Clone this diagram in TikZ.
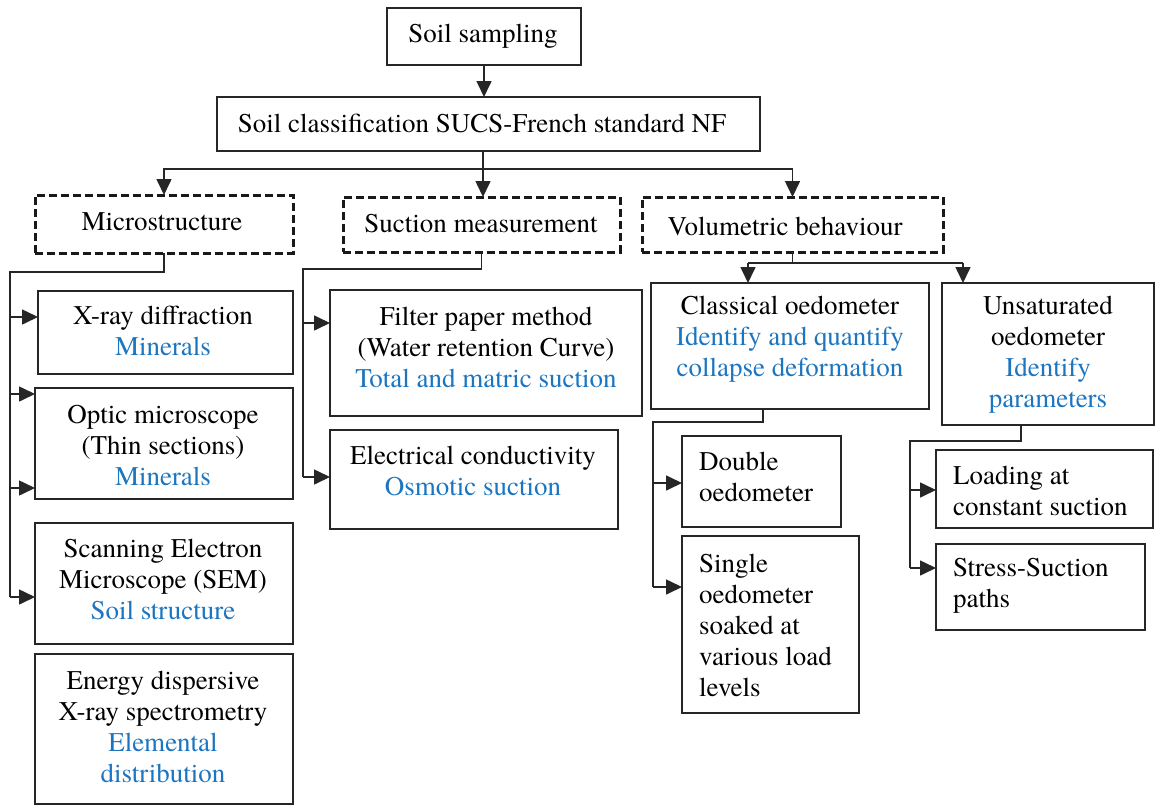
\documentclass[tikz,border=0pt]{standalone}
\usepackage{fontspec}
\setmainfont{texgyretermes}[Extension=.otf, UprightFont=*-regular, BoldFont=*-bold, ItalicFont=*-italic, BoldItalicFont=*-bolditalic]
\usetikzlibrary{arrows.meta}
\definecolor{tblue}{RGB}{28,117,192}
\tikzset{
  box/.style={draw=black!85, line width=1.6pt, inner sep=0pt, outer sep=0pt, rectangle},
  dbox/.style={draw=black!90, line width=3pt, dash pattern=on 8pt off 4pt, inner sep=0pt, outer sep=0pt, rectangle},
  txt/.style={inner sep=0pt, align=center, font=\rmfamily\fontsize{27}{31}\selectfont},
  ltxt/.style={inner sep=0pt, align=left, anchor=west, font=\rmfamily\fontsize{27}{31}\selectfont},
  line/.style={draw=black!85, line width=1.6pt},
  conn/.style={line, -{Triangle[length=16pt,width=15pt]}},
}
\newcommand{\bl}[1]{\textcolor{tblue}{#1}}
\begin{document}
\begin{tikzpicture}[x=1pt,y=-1pt]
\useasboundingbox (0,0) rectangle (1156,806);
% boxes
\node[box, minimum width=194pt, minimum height=57pt] (ss) at (484,36.5) {};
\node[box, minimum width=543pt, minimum height=54pt] (cls) at (488.5,124) {};
\node[dbox, minimum width=258pt, minimum height=58pt] (mic) at (164,224) {};
\node[dbox, minimum width=277pt, minimum height=55pt] (suc) at (481.5,224.5) {};
\node[dbox, minimum width=301pt, minimum height=55pt] (vol) at (792.5,224.5) {};
\node[box, minimum width=255pt, minimum height=83pt] (xrd) at (165.5,332.5) {};
\node[box, minimum width=258pt, minimum height=111pt] (opt) at (164,443.5) {};
\node[box, minimum width=258pt, minimum height=121pt] (sem) at (164,583.5) {};
\node[box, minimum width=258pt, minimum height=150pt] (eds) at (164,729) {};
\node[box, minimum width=312pt, minimum height=126pt] (fil) at (486,353) {};
\node[box, minimum width=288pt, minimum height=99pt] (ele) at (474,479.5) {};
\node[box, minimum width=278pt, minimum height=126pt] (cla) at (790,346) {};
\node[box, minimum width=212pt, minimum height=142pt] (uns) at (1048,354) {};
\node[box, minimum width=159pt, minimum height=91pt] (dou) at (761.5,481.5) {};
\node[box, minimum width=177pt, minimum height=177pt] (sin) at (770.5,624.5) {};
\node[box, minimum width=217pt, minimum height=78pt] (loa) at (1044.5,489) {};
\node[box, minimum width=209pt, minimum height=86pt] (str) at (1040.5,587) {};
% texts
\node[txt] (tss) at (483,36) {Soil sampling};
\node[txt] (tcls) at (482,123) {Soil classification SUCS-French standard NF};
\node[txt] (tmic) at (162,222) {Microstructure};
\node[txt] (tsuc) at (481,224) {Suction measurement};
\node[txt] (tvol) at (785,226) {Volumetric behaviour};
\node[txt] (txrd) at (163,331) {X-ray diffraction\\\bl{Minerals}};
\node[txt] (topt) at (163,446) {Optic microscope\\(Thin sections)\\\bl{Minerals}};
\node[txt] (tsem) at (163,579) {Scanning Electron\\Microscope (SEM)\\\bl{Soil structure}};
\node[txt] (teds) at (163,727) {Energy dispersive\\X-ray spectrometry\\\bl{Elemental}\\\bl{distribution}};
\node[txt] (tfil) at (486,347) {Filter paper method\\(Water retention Curve)\\\bl{Total and matric suction}};
\node[txt] (tele) at (473,471) {Electrical conductivity\\\bl{Osmotic suction}};
\node[txt] (tcla) at (790,339) {Classical oedometer\\\bl{Identify and quantify}\\\bl{collapse deformation}};
\node[txt] (tuns) at (1048,355) {Unsaturated\\oedometer\\\bl{Identify}\\\bl{parameters}};
\node[ltxt] (tdou) at (699,477) {Double\\oedometer};
\node[ltxt] (tsin) at (699,625) {Single\\oedometer\\soaked at\\various load\\levels};
\node[ltxt] (tloa) at (953,491) {Loading at\\constant suction};
\node[ltxt] (tstr) at (953,586) {Stress-Suction\\paths};
% top connectors
\draw[conn] (ss.south) -- (ss.south |- cls.north);
\coordinate (h1) at (483,169);
\draw[conn] (cls.south -| h1) -- (suc.north -| h1);
\draw[conn] (h1) -| (mic.north);
\draw[conn] (h1) -| (vol.north);
% microstructure
\coordinate (m0) at (164,272);
\coordinate (m1) at (10,272);
\coordinate (mA) at (10,317);
\coordinate (mB) at (10,394);
\coordinate (mC) at (10,488);
\coordinate (mD) at (10,597);
\draw[line] (mic.south) -- (m0) -- (m1) -- (mD);
\draw[conn] (mA) -- (xrd.west |- mA);
\draw[conn] (mB) -- (opt.west |- mB);
\draw[conn] (mC) -- (opt.west |- mC);
\draw[conn] (mD) -- (sem.west |- mD);
% suction
\coordinate (s0) at (481.5,269);
\coordinate (s1) at (303,269);
\coordinate (sA) at (303,323);
\coordinate (sB) at (303,477);
\draw[line] (suc.south) -- (s0) -- (s1) -- (sB);
\draw[conn] (sA) -- (fil.west |- sA);
\draw[conn] (sB) -- (ele.west |- sB);
% volumetric
\coordinate (v0) at (792.5,263);
\coordinate (v1) at (748,263);
\coordinate (v2) at (963,263);
\draw[line] (vol.south) -- (v0);
\draw[line] (v1) -- (v2);
\draw[conn] (v1) -- (v1 |- cla.north);
\draw[conn] (v2) -- (v2 |- uns.north);
% classical
\coordinate (c0) at (763,422);
\coordinate (c1) at (653,422);
\coordinate (cA) at (653,483);
\coordinate (cB) at (653,587);
\draw[line] (c0 |- cla.south) -- (c0) -- (c1) -- (cB);
\draw[conn] (cA) -- (dou.west |- cA);
\draw[conn] (cB) -- (sin.west |- cB);
% unsaturated
\coordinate (u0) at (1021,441);
\coordinate (u1) at (910,441);
\coordinate (uA) at (910,490);
\coordinate (uB) at (910,568);
\draw[line] (u0 |- uns.south) -- (u0) -- (u1) -- (uB);
\draw[conn] (uA) -- (loa.west |- uA);
\draw[conn] (uB) -- (str.west |- uB);
\end{tikzpicture}
\end{document}
